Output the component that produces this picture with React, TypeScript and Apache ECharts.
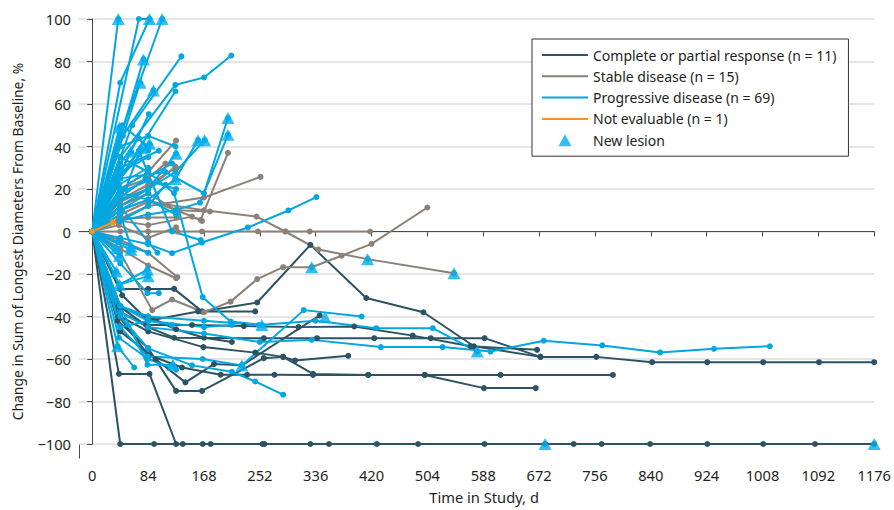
import React, { useEffect, useRef } from "react";
import * as echarts from "echarts";

// ---------- DATA ----------
const xTicks = [0, 84, 168, 252, 336, 420, 504, 588, 672, 756, 840, 924, 1008, 1092, 1176];
const yTicks = [-100, -80, -60, -40, -20, 0, 20, 40, 60, 80, 100];

const groupLabels = [
  "Complete or partial response (n = 11)",
  "Stable disease (n = 15)",
  "Progressive disease (n = 69)",
  "Not evaluable (n = 1)",
];
const newLesionLabel = "New lesion";

const crLines: number[][][] = [
  [[0, 0], [42, -100], [93, -100], [166, -100], [256, -100], [328, -100], [428, -100], [590, -100], [681, -100]],
  [[0, 0], [40, -67], [86, -67], [126, -100], [136, -100], [178, -100], [259, -100], [356, -100], [490, -100], [724, -100], [766, -100], [839, -100], [925, -100], [1009, -100], [1087, -100], [1176, -100]],
  [[0, 0], [41, -27], [84, -27], [123, -27], [165, -37.6], [248, -33.4], [328, -6.3], [412, -31.3], [498, -38], [574, -54], [674, -59], [758, -59], [842, -61.5], [925, -61.5], [1009, -61.5], [1093, -61.5], [1176, -61.5]],
  [[0, 0], [42, -47], [95, -60], [140, -71], [183, -62.4], [225, -63], [342, -39.5]],
  [[0, 0], [40, -40], [84, -58], [135, -64], [193, -67.4], [233, -67.4], [274, -67.4], [332, -67.5], [415, -67.5], [500, -67.5], [589, -73.7], [667, -73.7]],
  [[0, 0], [38, -42], [84, -55], [126, -75], [165, -75], [258, -59.6], [287, -59], [332, -67], [415, -67.5], [500, -67.5], [614, -67.5], [783, -67.5]],
  [[0, 0], [42, -38], [81, -44], [150, -44], [228, -44.5], [310, -45], [394, -44.7], [482, -49], [569, -54], [669, -55.7]],
  [[0, 0], [40, -35], [84, -45], [123, -50], [258, -50.2], [338, -50.2], [424, -50.2], [509, -50.2], [590, -50.2], [674, -59]],
  [[0, 0], [45, -30], [84, -42], [159, -37.6], [245, -37.6]],
  [[0, 0], [42, -40], [84, -47], [167, -54.4], [245, -57], [287, -59], [305, -60.7], [385, -58.5]],
  [[0, 0], [42, -36], [84, -40], [126, -46], [168, -50], [210, -52]],
];

const sdLines: number[][][] = [
  [[0, 0], [42, 20], [84, 28], [126, 42.8]],
  [[0, 0], [42, 10], [84, 15], [126, 10], [163, 5.5], [204, 37]],
  [[0, 0], [42, 6], [84, 12], [168, 16], [253, 25.7]],
  [[0, 0], [42, 0], [84, 0], [128, 0], [165, 0], [249, 0], [291, 0], [327, 0], [418, 0]],
  [[0, 0], [42, 8], [84, 14], [168, 10], [247, 7], [290, 0], [340, -8.5], [414, -13], [544, -19.6]],
  [[0, 0], [42, -10], [90, -37], [120, -32], [168, -38], [208, -33], [248, -22.4], [287, -16.8], [330, -16.8], [375, -11.4], [420, -5.8], [504, 11.3]],
  [[0, 0], [40, 6], [84, 6.6], [127, 6.6]],
  [[0, 0], [42, 12], [84, 18], [126, 10], [177, 9.4]],
  [[0, 0], [42, -4], [84, -10], [128, -21.5]],
  [[0, 0], [42, 15], [84, 22], [126, 30]],
  [[0, 0], [40, 3], [84, -3], [126, 2]],
  [[0, 0], [42, 20], [84, 25], [110, 32]],
  [[0, 0], [42, -8], [84, -16], [126, -22]],
  [[0, 0], [42, 5], [84, 3], [150, 7], [165, 5]],
  [[0, 0], [42, 14], [84, 20], [125, 30.6]],
];

const pdLines: number[][][] = [
  [[0, 0], [39, 100]],
  [[0, 0], [70, 100], [86, 100]],
  [[0, 0], [42, 45], [105, 100]],
  [[0, 0], [42, 70], [86, 100]],
  [[0, 0], [77, 81]],
  [[0, 0], [72, 70]],
  [[0, 0], [46, 45], [92, 66.4]],
  [[0, 0], [41, 49]],
  [[0, 0], [42, 35], [125, 69], [168, 72.5], [209, 82.8]],
  [[0, 0], [42, 25], [125, 66]],
  [[0, 0], [60, 50], [134, 82.4]],
  [[0, 0], [85, 55.2]],
  [[0, 0], [58, 37.6]],
  [[0, 0], [50, 20], [73, 39.2]],
  [[0, 0], [42, 25], [86, 41.3]],
  [[0, 0], [42, 30], [100, 38]],
  [[0, 0], [42, 15], [84, 20], [126, 36.6]],
  [[0, 0], [42, 10], [84, 15], [125, 24.7], [159, 43]],
  [[0, 0], [42, 12], [84, 20], [125, 28], [169, 43]],
  [[0, 0], [42, 5], [84, 8], [125, 10], [162, 13.6], [204, 45.5]],
  [[0, 0], [42, 25], [110, 28], [168, 18], [204, 53.4]],
  [[0, 0], [42, -3], [84, -6], [120, -10.2], [165, -5.2], [234, 1.9], [295, 9.9], [337, 16.2]],
  [[0, 0], [42, 20], [84, 28], [123, 18], [166, -30.9], [208, -42.4], [255, -44]],
  [[0, 0], [42, -40], [84, -55], [150, -63], [210, -66], [245, -70.6], [287, -76.8]],
  [[0, 0], [42, -45], [83, -58.8], [166, -60], [225, -63], [318, -37], [405, -40]],
  [[0, 0], [42, -35], [83, -62.7], [121, -62.7]],
  [[0, 0], [38, -54], [63, -64]],
  [[0, 0], [42, -35], [84, -40], [168, -42], [250, -44], [336, -42], [427, -45.5], [512, -45.5], [579, -56.5]],
  [[0, 0], [42, -38], [84, -45], [168, -48], [252, -52], [330, -51], [434, -54.4], [527, -54.4], [599, -56.5], [679, -51.4], [767, -53.6], [854, -56.9], [935, -55.2], [1019, -54]],
  [[0, 0], [36, -7.8]],
  [[0, 0], [58, -8.6]],
  [[0, 0], [41, -11.4]],
  [[0, 0], [41, -25], [83, -18]],
  [[0, 0], [36, -18.8]],
  [[0, 0], [42, 8], [58, -7]],
  [[0, 0], [42, -15], [83, -29], [100, -29]],
  [[0, 0], [42, 25], [70, 38], [120, 0], [163, -4]],
  [[0, 0], [40, 22], [84, 30]],
  [[0, 0], [42, 28], [84, 35]],
  [[0, 0], [38, 15], [80, 25], [120, 32]],
  [[0, 0], [42, 35], [84, 28]],
  [[0, 0], [40, 18], [84, 24], [126, 20]],
  [[0, 0], [42, 10], [84, 18]],
  [[0, 0], [42, 5], [84, 12], [110, 22]],
  [[0, 0], [40, -5], [84, -10]],
  [[0, 0], [42, 12], [84, -5], [98, -10]],
  [[0, 0], [40, -25], [84, -21]],
  [[0, 0], [42, -35], [84, -42], [120, -44]],
  [[0, 0], [42, 40], [84, 45], [125, 40]],
  [[0, 0], [42, 32], [70, 44], [84, 38]],
  [[0, 0], [45, 50], [84, 40]],
  [[0, 0], [42, 18], [84, 15], [126, 8]],
  [[0, 0], [40, -50], [84, -60], [126, -65]],
  [[0, 0], [42, -45], [84, -42], [168, -45], [210, -44]],
];

const neLines: number[][][] = [
  [[0, 0], [31, 4.3]],
];

const newLesions: number[][] = [
  [681, -100], [1176, -100], [330, -16.8], [414, -13], [544, -19.6],
  [39, 100], [86, 100], [105, 100], [77, 81], [72, 70], [92, 66.4], [41, 49],
  [58, 37.6], [73, 39.2], [86, 41.3], [126, 36.6], [125, 24.7], [159, 43], [169, 43],
  [204, 45.5], [204, 53.4], [255, -44], [225, -63], [121, -62.7], [38, -54],
  [579, -56.5], [350, -40.3], [36, -7.8], [58, -8.6], [41, -11.4], [41, -25],
  [83, -18], [36, -18.8], [58, -7], [84, -21],
];

// ---------- STYLE ----------
const COLORS = ["#2b5363", "#8b8178", "#00a7e1", "#f7941d"];
const TRI_COLOR = "#00aeef";
const FONT = "'Noto Sans', 'DejaVu Sans', sans-serif";
const AXIS_COLOR = "#4a4a4a";
const TEXT_COLOR = "#231f20";

const LINE_ICON = "path://M0,0h46v0.01h-46Z M0,6h46v2h-46Z M0,14h46v0.01h-46Z";
const TRI_ICON = "path://M0,0h0.01v0.01h-0.01Z M46,14h0.01v0.01h-0.01Z M23,1L29.5,13H16.5Z";

function buildOption() {
  const groups = [crLines, sdLines, pdLines, neLines];
  const series: any[] = [];
  groups.forEach((lines, gi) => {
    lines.forEach((pts) => {
      series.push({
        type: "line",
        name: groupLabels[gi],
        data: pts,
        symbol: "circle",
        symbolSize: 6,
        showSymbol: true,
        clip: false,
        silent: true,
        lineStyle: { width: 2, color: COLORS[gi] },
        itemStyle: { color: COLORS[gi], borderWidth: 0 },
        emphasis: { disabled: true },
        z: 2,
      });
    });
  });
  series.push({
    type: "scatter",
    name: newLesionLabel,
    data: newLesions,
    symbol: "triangle",
    symbolSize: [13, 12],
    clip: false,
    silent: true,
    itemStyle: { color: TRI_COLOR },
    z: 4,
  });

  return {
    animation: false,
    backgroundColor: "#ffffff",
    textStyle: { fontFamily: FONT },
    grid: { left: 79, right: 14.5, top: 19, bottom: 66, containLabel: false },
    legend: {
      data: [
        ...groupLabels.map((n) => ({ name: n, icon: LINE_ICON })),
        { name: newLesionLabel, icon: TRI_ICON },
      ],
      orient: "vertical",
      left: 532,
      top: 39,
      itemWidth: 46,
      itemHeight: 14,
      itemGap: 7.3,
      itemTextGap: 6,
      padding: [9, 12, 9, 10],
      borderColor: "#333333",
      borderWidth: 1,
      borderRadius: 0,
      backgroundColor: "#ffffff",
      selectedMode: false,
      itemStyle: { borderWidth: 0 },
      textStyle: { fontSize: 14, fontFamily: FONT, color: TEXT_COLOR },
      z: 10,
    },
    xAxis: {
      type: "value",
      min: -20,
      max: 1176,
      offset: 14,
      name: "Time in Study, d",
      nameLocation: "middle",
      nameGap: 31,
      nameTextStyle: { fontSize: 14.7, color: TEXT_COLOR, fontFamily: FONT, padding: [0, 0, 0, 15] },
      axisLine: { show: true, lineStyle: { color: AXIS_COLOR, width: 1 } },
      axisTick: { show: true, length: 5, customValues: xTicks, lineStyle: { color: AXIS_COLOR } },
      axisLabel: {
        customValues: xTicks,
        margin: 9,
        fontSize: 14.7,
        color: TEXT_COLOR,
        fontFamily: FONT,
        formatter: (v: number) => String(v),
      },
      splitLine: { show: false },
    },
    yAxis: {
      type: "value",
      min: yTicks[0],
      max: yTicks[yTicks.length - 1],
      interval: 20,
      name: "Change in Sum of Longest Diameters From Baseline, %",
      nameLocation: "middle",
      nameGap: 55,
      nameTextStyle: { fontSize: 13.9, color: TEXT_COLOR, fontFamily: FONT, padding: [0, 20, 0, 0] },
      axisLine: { show: true, lineStyle: { color: AXIS_COLOR, width: 1 } },
      axisTick: { show: true, length: 5, lineStyle: { color: AXIS_COLOR } },
      axisLabel: {
        margin: 8,
        fontSize: 14.7,
        color: TEXT_COLOR,
        fontFamily: FONT,
        formatter: (v: number) => (v < 0 ? "\u2212" + Math.abs(v) : String(v)),
      },
      splitLine: { show: true, lineStyle: { color: "#dddddd", width: 1.5 } },
    },
    graphic: [
      {
        type: "line",
        shape: { x1: 79.5, y1: 444, x2: 79.5, y2: 458.5 },
        style: { stroke: AXIS_COLOR, lineWidth: 1 },
        silent: true,
      },
    ],
    series,
  };
}

export default function App() {
  const ref = useRef<HTMLDivElement>(null);
  useEffect(() => {
    document.body.style.margin = "0";
    if (!ref.current) return;
    const chart = echarts.init(ref.current, undefined, { renderer: "svg" });
    chart.setOption(buildOption() as any);
    return () => chart.dispose();
  }, []);
  return <div ref={ref} style={{ width: 894, height: 510 }} />;
}
